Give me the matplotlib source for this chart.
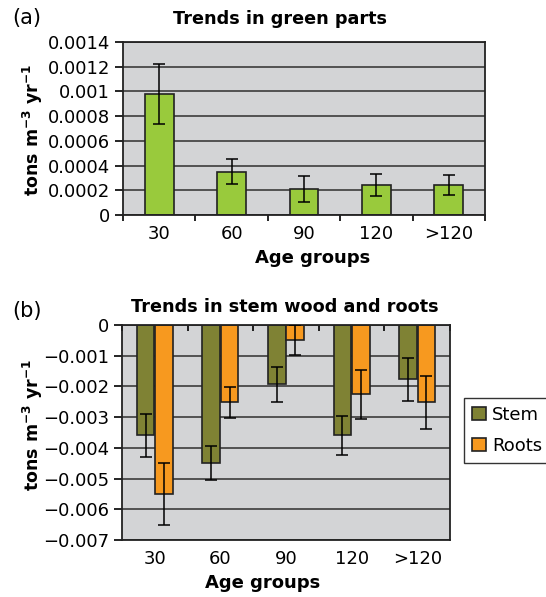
import numpy as np
import matplotlib
matplotlib.use('Agg')
import matplotlib.pyplot as plt

plt.rcParams['font.family'] = ['DejaVu Sans']
plt.rcParams['mathtext.fontset'] = 'dejavusans'

# data
age_groups = ['30', '60', '90', '120', '>120']
green = [0.00098, 0.00035, 0.00021, 0.00024, 0.00024]
green_err = [0.000245, 0.0001, 0.000105, 0.00009, 0.00008]
stem = [-0.00359, -0.0045, -0.00193, -0.00359, -0.00177]
stem_err = [0.0007, 0.00055, 0.00057, 0.00063, 0.0007]
roots = [-0.0055, -0.00252, -0.0005, -0.00225, -0.00252]
roots_err = [0.001, 0.0005, 0.00049, 0.0008, 0.00085]

yticks_a = [0, 0.0002, 0.0004, 0.0006, 0.0008, 0.001, 0.0012, 0.0014]
ylabels_a = ['0', '0.0002', '0.0004', '0.0006', '0.0008', '0.001', '0.0012', '0.0014']
yticks_b = [0, -0.001, -0.002, -0.003, -0.004, -0.005, -0.006, -0.007]
ylabels_b = ['0', '\u22120.001', '\u22120.002', '\u22120.003', '\u22120.004',
             '\u22120.005', '\u22120.006', '\u22120.007']

W, H = 546, 597
fig = plt.figure(figsize=(W / 100, H / 100), dpi=100)

bg = '#d3d4d6'
gridc = '#3c3c3c'
ylab = 'tons m$^{\\mathbf{-3}}$ yr$^{\\mathbf{-1}}$'
fs = 13
fs_title = 12.7
fs_lab = 13


def px_axes(l, r, t, b):
    return fig.add_axes([l / W, 1 - b / H, (r - l) / W, (b - t) / H])


def style(ax, yt, yl):
    ax.set_facecolor(bg)
    ax.set_yticks(yt)
    ax.set_yticklabels(yl, fontsize=fs)
    ax.yaxis.grid(True, color=gridc, lw=1.2)
    ax.set_axisbelow(True)
    for s in ax.spines.values():
        s.set_color('#222222')
        s.set_linewidth(1.3)
    ax.tick_params(axis='y', which='major', direction='out', length=5.8, width=1.2, pad=3.5)
    x = np.arange(len(age_groups))
    ax.set_xticks(x)
    ax.set_xticklabels(age_groups, fontsize=fs)
    ax.set_xticks(np.arange(len(age_groups) + 1) - 0.5, minor=True)
    ax.set_xlim(-0.5, len(age_groups) - 0.5)


# (a) green parts
ax1 = px_axes(123, 485, 42, 215)
x = np.arange(len(age_groups))
ax1.bar(x, green, width=0.4, color='#99ca3c', edgecolor='#222222', lw=1.2, zorder=2)
ax1.errorbar(x, green, yerr=green_err, fmt='none', ecolor='black', elinewidth=1.1,
             capsize=4, capthick=1.1, zorder=3)
style(ax1, yticks_a, ylabels_a)
ax1.set_ylim(0, 0.0014)
ax1.tick_params(axis='x', which='major', length=0, pad=7)
ax1.tick_params(axis='x', which='minor', direction='out', length=4, width=1.2)

fig.text(12 / W, 1 - 18 / H, '(a)', fontsize=15, va='center', ha='left')
fig.text(280 / W, 1 - 19 / H, 'Trends in green parts', fontsize=fs_title, fontweight='bold',
         ha='center', va='center')
fig.text(313 / W, 1 - 258 / H, 'Age groups', fontsize=fs_lab, fontweight='bold',
         ha='center', va='center')
fig.text(33 / W, 1 - 130 / H, ylab, fontsize=12.5, fontweight='bold', rotation=90,
         ha='center', va='center')

# (b) stem wood and roots
ax2 = px_axes(122, 450, 325, 540)
w = 0.27
ax2.bar(x - 0.14, stem, width=w, color='#7f8234', edgecolor='#222222', lw=1.2,
        zorder=2, label='Stem')
ax2.bar(x + 0.14, roots, width=w, color='#f7991f', edgecolor='#222222', lw=1.2,
        zorder=2, label='Roots')
ax2.errorbar(x - 0.14, stem, yerr=stem_err, fmt='none', ecolor='black', elinewidth=1.1,
             capsize=4, capthick=1.1, zorder=3)
ax2.errorbar(x + 0.14, roots, yerr=roots_err, fmt='none', ecolor='black', elinewidth=1.1,
             capsize=4, capthick=1.1, zorder=3)
style(ax2, yticks_b, ylabels_b)
ax2.set_ylim(-0.007, 0)
ax2.tick_params(axis='x', which='major', length=0, pad=7)
ax2.tick_params(axis='x', which='minor', bottom=False, top=True, direction='in',
                length=4.5, width=1.2)

fig.text(12 / W, 1 - 311 / H, '(b)', fontsize=15, va='center', ha='left')
fig.text(285 / W, 1 - 307 / H, 'Trends in stem wood and roots', fontsize=fs_title,
         fontweight='bold', ha='center', va='center')
fig.text(263 / W, 1 - 583 / H, 'Age groups', fontsize=fs_lab, fontweight='bold',
         ha='center', va='center')
fig.text(33 / W, 1 - 425 / H, ylab, fontsize=12.5, fontweight='bold', rotation=90,
         ha='center', va='center')

leg = ax2.legend(loc='upper left', bbox_to_anchor=(464 / W, 1 - 398 / H),
                 bbox_transform=fig.transFigure, borderaxespad=0, fontsize=13,
                 fancybox=False, edgecolor='#333333', framealpha=1,
                 handlelength=0.75, handleheight=0.75, handletextpad=0.35,
                 labelspacing=0.7, borderpad=0.45)
leg.get_frame().set_linewidth(1.0)

fig.savefig('out.png', dpi=100)
